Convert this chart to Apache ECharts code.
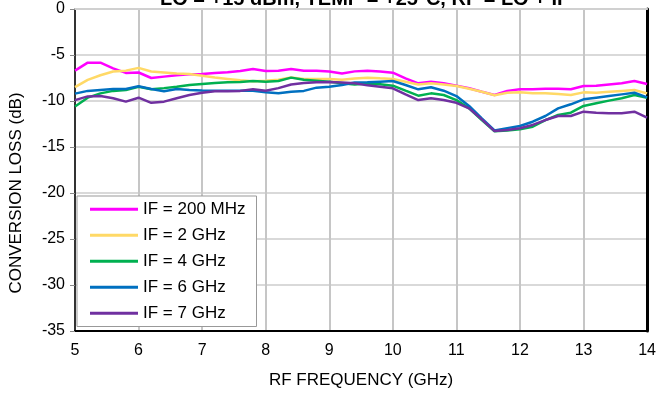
<!DOCTYPE html>
<html>
<head>
<meta charset="utf-8">
<script src="https://cdn.jsdelivr.net/npm/echarts@6/dist/echarts.min.js"></script>
<style>
  html, body { margin: 0; padding: 0; background: #fff; }
  #chart { width: 659px; height: 396px; }
</style>
</head>
<body>
<div id="chart"></div>
<script>
// RF frequency, GHz (0.2 GHz steps)
const freq = [5.0, 5.2, 5.4, 5.6, 5.8, 6.0, 6.2, 6.4, 6.6, 6.8,
  7.0, 7.2, 7.4, 7.6, 7.8, 8.0, 8.2, 8.4, 8.6, 8.8,
  9.0, 9.2, 9.4, 9.6, 9.8, 10.0, 10.2, 10.4, 10.6, 10.8,
  11.0, 11.2, 11.4, 11.6, 11.8, 12.0, 12.2, 12.4, 12.6, 12.8,
  13.0, 13.2, 13.4, 13.6, 13.8, 14.0]

const if200MHz = [-6.7, -5.83, -5.83, -6.45, -6.95, -6.9, -7.5, -7.35, -7.2, -7.1,
  -7.07, -6.95, -6.88, -6.74, -6.52, -6.74, -6.7, -6.52, -6.7, -6.7,
  -6.8, -7.0, -6.78, -6.7, -6.8, -6.92, -7.54, -8.08, -7.9, -8.08,
  -8.33, -8.62, -9.0, -9.35, -8.9, -8.73, -8.73, -8.66, -8.66, -8.73,
  -8.37, -8.33, -8.2, -8.08, -7.83, -8.15]

const if2GHz = [-8.5, -7.7, -7.2, -6.8, -6.7, -6.4, -6.8, -6.9, -7.0, -7.07,
  -7.25, -7.45, -7.6, -7.75, -7.85, -7.8, -7.7, -7.45, -7.6, -7.6,
  -7.6, -7.7, -7.55, -7.46, -7.54, -7.6, -7.9, -8.2, -8.08, -8.2,
  -8.37, -8.66, -9.0, -9.38, -9.1, -9.06, -9.17, -9.17, -9.24, -9.35,
  -9.06, -9.1, -9.0, -8.9, -8.8, -9.17]

const if4GHz = [-10.6, -9.64, -9.17, -8.9, -8.8, -8.45, -8.73, -8.6, -8.44, -8.26,
  -8.15, -8.04, -7.97, -7.93, -7.83, -7.9, -7.83, -7.46, -7.7, -7.8,
  -7.9, -8.08, -8.2, -8.1, -8.19, -8.33, -8.88, -9.42, -9.17, -9.35,
  -9.9, -10.8, -12.07, -13.3, -13.2, -13.08, -12.79, -12.07, -11.52, -11.27,
  -10.54, -10.25, -9.96, -9.71, -9.35, -9.64]

const if6GHz = [-9.2, -8.9, -8.8, -8.7, -8.7, -8.4, -8.7, -8.95, -8.7, -8.8,
  -8.85, -8.88, -8.88, -8.88, -8.88, -9.06, -9.17, -9.0, -8.9, -8.55,
  -8.44, -8.26, -8.0, -7.97, -7.9, -7.83, -8.26, -8.73, -8.5, -8.88,
  -9.46, -10.54, -11.88, -13.2, -12.95, -12.72, -12.25, -11.63, -10.8, -10.36,
  -9.82, -9.64, -9.46, -9.28, -9.1, -9.6]

const if7GHz = [-9.9, -9.5, -9.45, -9.7, -10.07, -9.64, -10.2, -10.07, -9.7, -9.35,
  -9.1, -8.95, -8.95, -8.9, -8.73, -8.88, -8.6, -8.2, -8.04, -7.97,
  -7.93, -8.0, -8.08, -8.3, -8.44, -8.62, -9.28, -9.9, -9.7, -9.9,
  -10.2, -10.8, -12.0, -13.27, -13.15, -12.97, -12.6, -12.07, -11.63, -11.63,
  -11.16, -11.27, -11.34, -11.34, -11.16, -11.81]

const seriesNames = ['IF = 200 MHz', 'IF = 2 GHz', 'IF = 4 GHz', 'IF = 6 GHz', 'IF = 7 GHz']
const seriesValues = [if200MHz, if2GHz, if4GHz, if6GHz, if7GHz]
const seriesColors = ['#ff00ff', '#ffd966', '#00b050', '#0070c0', '#7030a0']

const titleText = 'LO = +15 dBm, TEMP = +25°C, RF = LO + IF'
const xTitle = 'RF FREQUENCY (GHz)'
const yTitle = 'CONVERSION LOSS (dB)'

const font = 'Liberation Sans, Arial, sans-serif'

const chart = echarts.init(document.getElementById('chart'), null, { renderer: 'canvas' })

const series = seriesNames.map((name, i) => ({
  name: name,
  type: 'line',
  data: freq.map((f, k) => [f, seriesValues[i][k]]),
  showSymbol: false,
  smooth: false,
  color: seriesColors[i],
  lineStyle: { width: 2.5, color: seriesColors[i] },
  emphasis: { disabled: true },
  animation: false
}))

const option = {
  animation: false,
  textStyle: { fontFamily: font },
  title: {
    text: titleText,
    left: 160,
    top: -11,
    padding: 0,
    textStyle: { fontSize: 20, fontWeight: 'bold', color: '#000', fontFamily: font }
  },
  grid: { left: 73, right: 10, top: 9, bottom: 65, containLabel: false },
  legend: {
    orient: 'vertical',
    left: 77,
    top: 196,
    padding: [4, 11, 4, 13],
    itemWidth: 48,
    itemHeight: 3,
    itemGap: 7.5,
    icon: 'rect',
    selectedMode: false,
    backgroundColor: '#fff',
    borderColor: '#999',
    borderWidth: 1,
    borderRadius: 0,
    textStyle: { fontSize: 17, color: '#000', lineHeight: 18.5, fontFamily: font },
    data: seriesNames
  },
  xAxis: [
    {
      type: 'value',
      min: 5,
      max: 14,
      interval: 1,
      axisLine: { show: true, onZero: false, lineStyle: { color: '#000', width: 2 } },
      axisTick: { show: false },
      axisLabel: { color: '#000', fontSize: 16, margin: 12, fontFamily: font },
      splitLine: { show: true, lineStyle: { color: '#c6c6c6', width: 2 } },
      name: xTitle,
      nameLocation: 'middle',
      nameGap: 41,
      nameTextStyle: { color: '#000', fontSize: 17, fontFamily: font }
    },
    {
      type: 'value',
      position: 'top',
      min: 5,
      max: 14,
      interval: 1,
      axisLine: { show: true, onZero: false, lineStyle: { color: '#d0d0d0', width: 2 } },
      axisTick: { show: false },
      axisLabel: { show: false },
      splitLine: { show: false }
    }
  ],
  yAxis: [
    {
      type: 'value',
      min: -35,
      max: 0,
      interval: 5,
      axisLine: { show: true, onZero: false, lineStyle: { color: '#333', width: 2 } },
      axisTick: { show: true, length: 5, lineStyle: { color: '#888' } },
      axisLabel: { color: '#000', fontSize: 16, margin: 10, fontFamily: font },
      splitLine: { show: true, lineStyle: { color: '#d9d9d9', width: 2 } },
      name: yTitle,
      nameLocation: 'middle',
      nameGap: 50,
      nameTextStyle: { color: '#000', fontSize: 17, fontFamily: font, padding: [0, 46, 0, 0] }
    },
    {
      type: 'value',
      position: 'right',
      min: -35,
      max: 0,
      interval: 5,
      axisLine: { show: true, onZero: false, lineStyle: { color: '#000', width: 3 } },
      axisTick: { show: false },
      axisLabel: { show: false },
      splitLine: { show: false }
    }
  ],
  series: series
}

chart.setOption(option)
</script>
</body>
</html>
